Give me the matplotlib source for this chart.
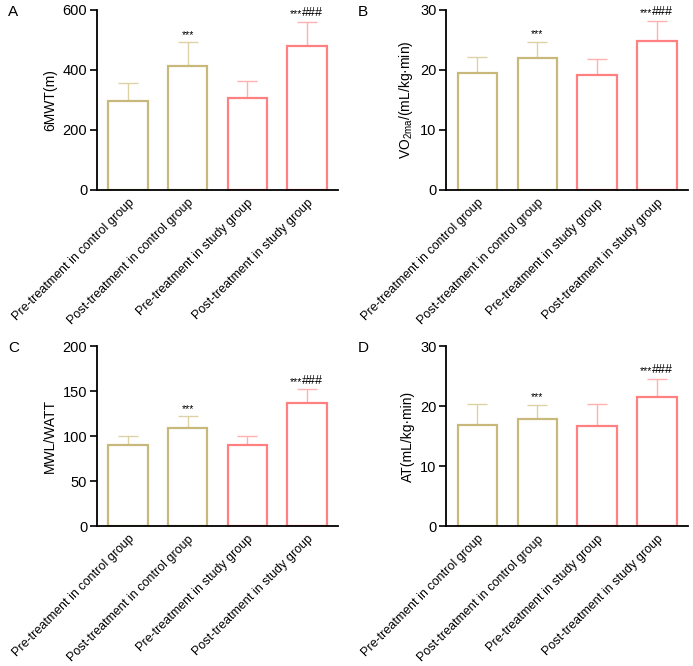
import matplotlib.pyplot as plt

plt.rcParams['font.family'] = ['Liberation Sans', 'DejaVu Sans']
plt.rcParams['mathtext.default'] = 'regular'

groups = ["Pre-treatment in control group", "Post-treatment in control group",
          "Pre-treatment in study group", "Post-treatment in study group"]

# mean values and upper error (SD) per panel
mwt6 = [296, 412, 308, 481]
mwt6_sd = [62, 80, 56, 80]
vo2 = [19.5, 22.0, 19.2, 24.9]
vo2_sd = [2.6, 2.7, 2.6, 3.3]
mwl = [90, 109, 90, 137]
mwl_sd = [10, 13, 10, 15]
at = [16.8, 17.8, 16.7, 21.6]
at_sd = [3.5, 2.4, 3.7, 3.0]

stars = ["", "***", "", "***"]
hashes = ["", "", "", "###"]

panels = [
    ("A", mwt6, mwt6_sd, "6MWT(m)", 600, 200),
    ("B", vo2, vo2_sd, "VO$_{2ma}$/(mL/kg·min)", 30, 10),
    ("C", mwl, mwl_sd, "MWL/WATT", 200, 50),
    ("D", at, at_sd, "AT(mL/kg·min)", 30, 10),
]

edge_cols = ["#C8B87C", "#C8B87C", "#FF8080", "#FF8080"]
err_cols = ["#DDD2A6", "#DDD2A6", "#FFB0B0", "#FFB0B0"]

fig = plt.figure(figsize=(6.93, 6.66), dpi=100)

# axes rectangles [left, bottom, width, height] in figure fraction
rects = [
    [0.140, 0.715, 0.348, 0.270],
    [0.644, 0.715, 0.349, 0.270],
    [0.140, 0.210, 0.348, 0.270],
    [0.644, 0.210, 0.349, 0.270],
]

for (letter, vals, sds, ylab, ymax, step), rect in zip(panels, rects):
    ax = fig.add_axes(rect)
    x = range(len(vals))
    for i in x:
        ax.errorbar(i, vals[i], yerr=[[0], [sds[i]]], color=err_cols[i],
                    elinewidth=1.0, capsize=7, capthick=1.0, zorder=1)
        ax.bar(i, vals[i], width=0.66, facecolor="white",
               edgecolor=edge_cols[i], linewidth=1.6, zorder=2)
        top = vals[i] + sds[i] + ymax * 0.015
        if hashes[i]:
            ax.text(i - 0.08, top, stars[i], ha="right", va="bottom",
                    fontsize=7.5, zorder=3)
            ax.text(i - 0.08, top, hashes[i], ha="left", va="bottom",
                    fontsize=9, zorder=3)
        elif stars[i]:
            ax.text(i, top, stars[i], ha="center", va="bottom",
                    fontsize=7.5, zorder=3)
    ax.set_xlim(-0.52, 3.52)
    ax.set_ylim(0, ymax)
    ax.set_yticks(range(0, ymax + 1, step))
    ax.set_xticks(list(x))
    ax.set_xticklabels(groups, rotation=45, ha="right", rotation_mode="anchor",
                       fontsize=9)
    ax.tick_params(axis="y", labelsize=10.5, width=1.2, length=5,
                   direction="out", pad=2)
    ax.tick_params(axis="x", width=1.2, length=5, direction="in", pad=5)
    for side in ["top", "right"]:
        ax.spines[side].set_visible(False)
    for side in ["left", "bottom"]:
        ax.spines[side].set_linewidth(1.3)
        ax.spines[side].set_zorder(4)
    ax.set_ylabel(ylab, fontsize=10, labelpad=4)
    fig.text(rect[0] - 0.128, rect[1] + rect[3] - 0.003, letter,
             fontsize=11, va="center", ha="left")

fig.savefig("out.png", dpi=100)
